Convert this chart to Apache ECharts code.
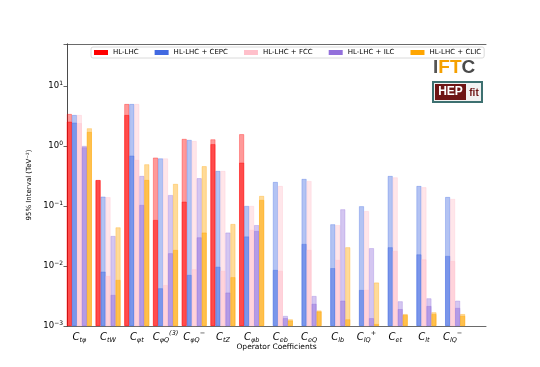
<!DOCTYPE html>
<html>
<head>
<meta charset="utf-8">
<script src="https://cdn.jsdelivr.net/npm/echarts@6/dist/echarts.min.js"></script>
<style>
    html, body {margin: 0; padding: 0; background: #fff;}
    #chart {width: 540px; height: 367px;}
</style>
</head>
<body>
<div id="chart"></div>
<script>
//算子名称：下标 / 上标
const catSub = ['tφ', 'tW', 'φt', 'φQ', 'φQ', 'tZ', 'φb', 'eb', 'eQ', 'lb', 'lQ', 'et', 'lt', 'lQ'];
const catSup = ['', '', '', '(3)', '−', '', '', '', '', '', '+', '', '', '−'];
const categories = catSub.map((s, i) => 'C_' + s + '^' + catSup[i]);

//y轴范围
const yMin = 0.001;
const yMax = 50;

//浅色 = 全局拟合, 深色 = 单独拟合
const hlLhcGlobal = [3.41, 0.27, 5.0, 0.64, 1.31, 1.29, 1.57, null, null, null, null, null, null, null];
const hlLhcIndiv = [2.54, 0.27, 3.28, 0.0585, 0.118, 1.07, 0.527, null, null, null, null, null, null, null];
const cepcGlobal = [3.28, 0.143, 5.0, 0.62, 1.26, 0.383, 0.1, 0.251, 0.282, 0.0495, 0.099, 0.316, 0.215, 0.141];
const cepcIndiv = [2.45, 0.00805, 0.69, 0.00425, 0.0071, 0.0097, 0.031, 0.0086, 0.0233, 0.0092, 0.00398, 0.0205, 0.0156, 0.0147];
const fccGlobal = [3.28, 0.14, 5.0, 0.62, 1.21, 0.383, 0.1, 0.215, 0.26, 0.048, 0.082, 0.30, 0.205, 0.131];
const fccIndiv = [2.4, 0.0068, 0.585, 0.0048, 0.0088, 0.0083, 0.040, 0.0083, 0.0185, 0.0126, 0.0040, 0.0178, 0.0129, 0.0121];
const ilcGlobal = [1.0, 0.0316, 0.316, 0.152, 0.29, 0.036, 0.048, 0.00147, 0.00316, 0.088, 0.0198, 0.00258, 0.00289, 0.00264];
const ilcIndiv = [0.95, 0.00329, 0.104, 0.0163, 0.030, 0.0036, 0.0383, 0.00135, 0.00234, 0.00264, 0.00135, 0.00191, 0.00215, 0.002];
const clicGlobal = [1.97, 0.044, 0.495, 0.233, 0.46, 0.050, 0.147, 0.00129, 0.00181, 0.0205, 0.0053, 0.00158, 0.00169, 0.00158];
const clicIndiv = [1.71, 0.00585, 0.271, 0.0185, 0.036, 0.0065, 0.126, 0.00123, 0.00174, 0.00129, 0.00108, 0.00152, 0.00158, 0.00148];

const names = ['HL-LHC', 'HL-LHC + CEPC', 'HL-LHC + FCC', 'HL-LHC + ILC', 'HL-LHC + CLIC'];
const globalData = [hlLhcGlobal, cepcGlobal, fccGlobal, ilcGlobal, clicGlobal];
const indivData = [hlLhcIndiv, cepcIndiv, fccIndiv, ilcIndiv, clicIndiv];
//red, royalblue, pink, mediumpurple, orange
const rgb = ['255,0,0', '65,105,225', '255,192,203', '147,112,219', '255,165,0'];

let chart = echarts.init(document.getElementById('chart'));

//log轴上的柱子会从1开始画，所以柱子用 log10(v/yMin) 画在隐藏的线性轴上
function toDecades(arr) {
    return arr.map(v => (v === null ? null : Math.log10(v / yMin)));
}

//y轴 10^n 标签
function powLabel(v) {
    let e = Math.round(Math.log10(v));
    if (Math.abs(v / Math.pow(10, e) - 1) > 1e-6) {
        return '';
    }
    return '{b|10}{e|' + (e < 0 ? '−' + (-e) : e) + '}';
}

//x轴 C_sub^sup 标签
function catLabel(value) {
    let parts = value.substring(2).split('^');
    let s = '{c|C}{s|' + parts[0] + '}';
    if (parts[1]) {
        s += '{p|' + parts[1] + '}';
    }
    return s;
}

let series = [];
for (let i = 0; i < 5; i++) {
    series.push({
        name: names[i],
        type: 'bar',
        xAxisIndex: 0,
        yAxisIndex: 0,
        barWidth: 5,
        barGap: '0%',
        data: toDecades(globalData[i]),
        itemStyle: {color: 'rgba(' + rgb[i] + ',0.4)', borderColor: 'rgba(' + rgb[i] + ',0.45)', borderWidth: 0.7}
    });
}
for (let i = 0; i < 5; i++) {
    series.push({
        name: names[i],
        type: 'bar',
        xAxisIndex: 1,
        yAxisIndex: 0,
        barWidth: 5,
        barGap: '0%',
        data: toDecades(indivData[i]),
        itemStyle: {color: 'rgba(' + rgb[i] + ',0.5)', borderColor: 'rgba(' + rgb[i] + ',0.5)', borderWidth: 0.7}
    });
}

const frameLine = {show: true, lineStyle: {color: '#444', width: 0.8}};

let option = {
    animation: false,
    backgroundColor: '#fff',
    textStyle: {fontFamily: 'DejaVu Sans'},
    legend: {
        data: names.map((n, i) => ({name: n, itemStyle: {color: 'rgb(' + rgb[i] + ')', borderWidth: 0}})),
        icon: 'rect',
        left: 91,
        top: 47,
        itemWidth: 14,
        itemHeight: 5,
        itemGap: 16,
        padding: [2, 3],
        backgroundColor: '#fff',
        borderColor: '#d0d0d0',
        borderWidth: 0.8,
        borderRadius: 2,
        textStyle: {fontSize: 7, color: '#000', fontFamily: 'DejaVu Sans'}
    },
    grid: [
        //数据区
        {left: 65, width: 402, top: 44, bottom: 41},
        //外框
        {left: 67, right: 54, top: 44, bottom: 41}
    ],
    xAxis: [
        {
            type: 'category', gridIndex: 0, data: categories,
            axisLine: {show: false}, axisTick: {show: false},
            axisLabel: {
                margin: 4, interval: 0, formatter: catLabel,
                rich: {
                    c: {fontSize: 10, fontStyle: 'italic', color: '#000', lineHeight: 14},
                    s: {fontSize: 6.5, fontStyle: 'italic', color: '#000', lineHeight: 7, verticalAlign: 'bottom'},
                    p: {fontSize: 6.5, fontStyle: 'italic', color: '#000', lineHeight: 7, verticalAlign: 'top'}
                }
            }
        },
        {
            type: 'category', gridIndex: 0, data: categories, position: 'top', show: false
        },
        {
            type: 'value', gridIndex: 1, min: 0, max: 1, position: 'bottom',
            axisLine: frameLine, axisTick: {show: false}, axisLabel: {show: false}, splitLine: {show: false},
            name: 'Operator Coefficients', nameLocation: 'middle', nameGap: 17,
            nameTextStyle: {fontSize: 7.5, color: '#000'}
        },
        {
            type: 'value', gridIndex: 1, min: 0, max: 1, position: 'top',
            axisLine: frameLine, axisTick: {show: false}, axisLabel: {show: false}, splitLine: {show: false}
        }
    ],
    yAxis: [
        //隐藏的线性轴：单位 = 从 yMin 起的十进位数
        {type: 'value', gridIndex: 0, min: 0, max: Math.log10(yMax / yMin), show: false},
        {
            type: 'log', gridIndex: 1, min: yMin, max: yMax, position: 'left',
            axisLine: frameLine,
            axisTick: {show: true, length: 3.5, lineStyle: {color: '#444', width: 0.8}},
            splitLine: {show: false},
            axisLabel: {
                margin: 4, formatter: powLabel,
                rich: {
                    b: {fontSize: 8.5, color: '#000', lineHeight: 12},
                    e: {fontSize: 6, color: '#000', lineHeight: 7, verticalAlign: 'top'}
                }
            },
            name: '95% Interval (TeV⁻²)', nameLocation: 'middle', nameGap: 33,
            nameTextStyle: {fontSize: 7, color: '#000'}
        },
        {
            type: 'log', gridIndex: 1, min: yMin, max: yMax, position: 'right',
            axisLine: frameLine, axisTick: {show: false}, axisLabel: {show: false}, splitLine: {show: false}
        }
    ],
    //右上角标志
    graphic: [
        {
            type: 'text', left: 433, top: 58,
            style: {
                text: '{i|I}{f|FT}{c|C}',
                rich: {
                    i: {fontSize: 19, fontWeight: 'bold', fill: '#555', fontFamily: 'Liberation Sans'},
                    f: {fontSize: 19, fontWeight: 'bold', fill: '#f5a000', fontFamily: 'Liberation Sans'},
                    c: {fontSize: 19, fontWeight: 'bold', fill: '#4a4a4a', fontFamily: 'Liberation Sans'}
                }
            }
        },
        {type: 'rect', shape: {x: 433, y: 82, width: 49, height: 20}, style: {fill: '#f2f2f2', stroke: '#3d7070', lineWidth: 2}},
        {type: 'rect', shape: {x: 435, y: 84, width: 31, height: 16}, style: {fill: '#6e1515'}},
        {type: 'text', x: 450.5, y: 92, style: {text: 'HEP', fill: '#fff', fontSize: 12, fontWeight: 'bold', align: 'center', verticalAlign: 'middle', fontFamily: 'Liberation Sans'}},
        {type: 'text', x: 474, y: 93, style: {text: 'fit', fill: '#6e1515', fontSize: 10, fontWeight: 'bold', align: 'center', verticalAlign: 'middle', fontFamily: 'Liberation Sans'}}
    ],
    series: series
};

chart.setOption(option);
</script>
</body>
</html>
